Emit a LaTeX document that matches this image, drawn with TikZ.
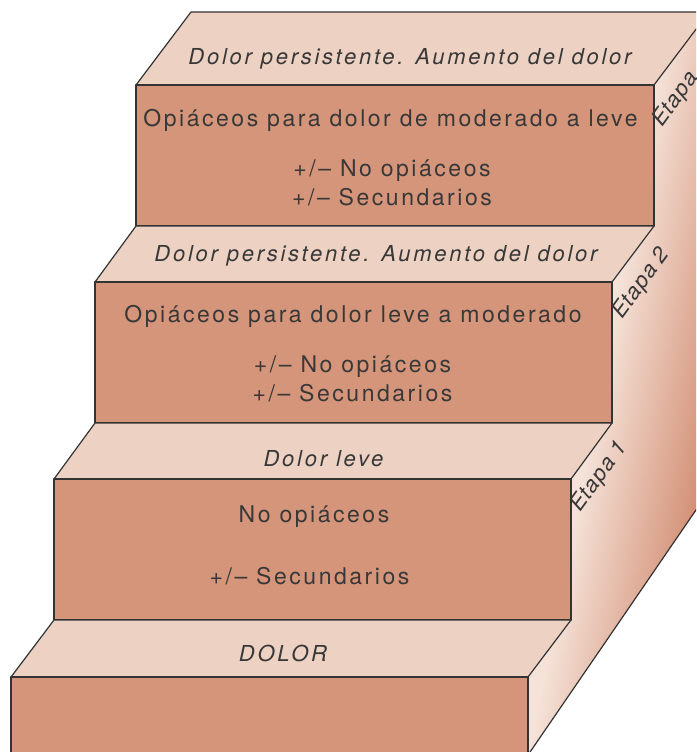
\documentclass[tikz,border=0pt]{standalone}
\usepackage{fontspec}
\setmainfont{TeX Gyre Heros}
\newfontfamily\frontfont[LetterSpace=11]{TeX Gyre Heros}
\newfontfamily\treadfont[LetterSpace=12.5]{TeX Gyre Heros}
\newfontfamily\etapafont[LetterSpace=5]{TeX Gyre Heros}
\definecolor{frontc}{HTML}{D5957A}
\definecolor{topc}{HTML}{EDD1C3}
\definecolor{sideL}{HTML}{F5E3D9}
\definecolor{sideR}{HTML}{CF866A}
\definecolor{linec}{HTML}{333333}
\definecolor{txtc}{HTML}{383838}
\begin{document}
\begin{tikzpicture}[x=1pt,y=-1pt,
  face/.style={draw=linec, line width=1.2pt, line join=round},
  frontface/.style={face, fill=frontc},
  topface/.style={face, fill=topc},
  frontlab/.style={font=\frontfont\fontsize{23}{27}\selectfont, text=txtc, inner sep=0pt, anchor=base},
  treadlab/.style={font=\treadfont\fontsize{22}{26}\selectfont\itshape, text=txtc, inner sep=0pt, anchor=base},
  etapalab/.style={font=\etapafont\fontsize{22}{26}\selectfont\itshape, text=txtc, inner sep=0pt, anchor=base west, rotate=54}]
\useasboundingbox (0,0) rectangle (696,752);
\clip (0,0) rectangle (696,752);

% side face with gradient
\begin{scope}
  \clip (528,800) -- (528,677) -- (571,620) -- (571,479) -- (612,423) -- (612,282)
        -- (654,226) -- (654,85) -- (709,12) -- (709,491) -- (528,755) -- cycle;
  \begin{scope}[transform canvas={rotate around={-10.65:(528,755)}}]
    \fill[sideL] (300,-600) rectangle (529,1600);
    \shade[left color=sideL, right color=sideR] (528,-600) rectangle (662,1600);
    \fill[sideR] (661,-600) rectangle (1000,1600);
  \end{scope}
\end{scope}
\draw[face] (528,755) -- (709,491);

% step 3 (top)
\draw[topface] (136,85) -- (191,12) -- (709,12) -- (654,85) -- cycle;
\draw[frontface] (136,85) rectangle (654,226);
% step 2
\draw[topface] (95,282) -- (136,226) -- (654,226) -- (612,282) -- cycle;
\draw[frontface] (95,282) rectangle (612,423);
% step 1
\draw[topface] (54,479) -- (95,423) -- (612,423) -- (571,479) -- cycle;
\draw[frontface] (54,479) rectangle (571,620);
% step 0
\draw[topface] (11,677) -- (54,620) -- (571,620) -- (528,677) -- cycle;
\draw[frontface] (11,677) rectangle (528,800);

% labels
\node[treadlab] (t3) at (410,65) {Dolor persistente. Aumento del dolor};
\node[frontlab] (f3a) at (390.5,126) {Opiáceos para dolor de moderado a leve};
\node[frontlab] (f3b) at (392,176) {+/– No opiáceos};
\node[frontlab] (f3c) at (392,205) {+/– Secundarios};

\node[treadlab] (t2) at (376,261) {Dolor persistente. Aumento del dolor};
\node[frontlab] (f2a) at (353,322.7) {Opiáceos para dolor leve a moderado};
\node[frontlab] (f2b) at (352.5,372) {+/– No opiáceos};
\node[frontlab] (f2c) at (352.5,401) {+/– Secundarios};

\node[treadlab] (t1) at (323.5,466) {Dolor leve};
\node[frontlab] (f1a) at (314,522) {No opiáceos};
\node[frontlab] (f1b) at (309.5,584) {+/– Secundarios};

\node[treadlab] (t0) at (283,661) {DOLOR};

\node[etapalab] (e3) at (662,128) {Etapa};
\node[etapalab] (e2) at (622,320) {Etapa 2};
\node[etapalab] (e1) at (580,513) {Etapa 1};
\end{tikzpicture}
\end{document}
